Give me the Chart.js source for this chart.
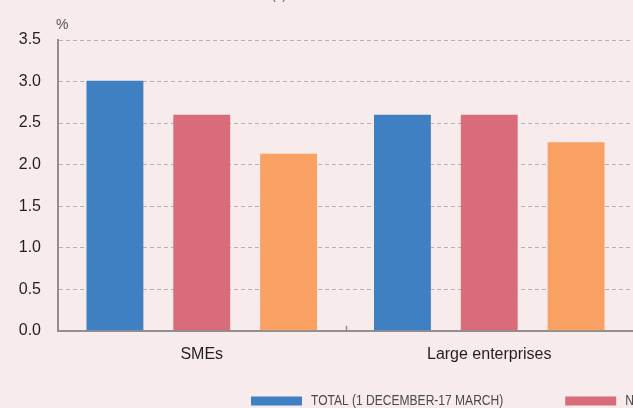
<!DOCTYPE html>
<html>
<head>
<meta charset="utf-8">
<script src="https://cdn.jsdelivr.net/npm/chart.js@4.4.0/dist/chart.umd.min.js"></script>
<style>
  html, body { margin: 0; padding: 0; background: #f7ebeb; overflow: hidden; }
  #wrap { position: relative; width: 633px; height: 408px; }
</style>
</head>
<body>
<div id="wrap"><canvas id="chart"></canvas></div>
<script>
const categories = ['SMEs', 'Large enterprises'];
const seriesNames = ['TOTAL (1 DECEMBER-17 MARCH)', 'NEW LOANS (1 DECEMBER-13 MARCH)', 'NEW LOANS (14-17 MARCH)'];
const seriesColors = ['#3f80c2', '#d96c7b', '#f9a063'];
const totalValues = [3.01, 2.6];
const firstPeriodValues = [2.6, 2.6];
const secondPeriodValues = [2.13, 2.27];
const yMin = 0;
const yMax = 3.5;
const yStep = 0.5;

const axisGrey = '#8f8f8f';
const textDark = '#231f20';
const legendSquash = 0.86; // narrow look for the legend text

// short separators between category groups, the unit label and the legend row
const extras = {
    id: 'extras',
    afterDraw(chart) {
        const ctx = chart.ctx;
        const area = chart.chartArea;
        const x = chart.scales.x;
        ctx.save();

        ctx.strokeStyle = axisGrey;
        ctx.lineWidth = 1.5;
        for (let i = 1; i < categories.length; i++) {
            const px = Math.round((x.getPixelForTick(i - 1) + x.getPixelForTick(i)) / 2) + 0.5;
            ctx.beginPath();
            ctx.moveTo(px, area.bottom);
            ctx.lineTo(px, area.bottom - 5);
            ctx.stroke();
        }

        ctx.fillStyle = '#555555';
        ctx.font = '14px "Liberation Sans", Arial, sans-serif';
        ctx.textAlign = 'left';
        ctx.textBaseline = 'middle';
        ctx.fillText('%', area.left - 2, area.top - 15);

        ctx.textAlign = 'center';
        ctx.textBaseline = 'alphabetic';
        ctx.font = '12px "Liberation Sans", Arial, sans-serif';
        ctx.fillText('(a)', 279, -1);

        // legend
        let lx = 251;
        const ly = 401;
        ctx.font = '14px "Liberation Sans", Arial, sans-serif';
        ctx.textAlign = 'left';
        ctx.textBaseline = 'middle';
        chart.data.datasets.forEach(ds => {
            ctx.fillStyle = ds.backgroundColor;
            ctx.fillRect(lx, ly - 4.5, 51, 9);
            ctx.fillStyle = '#4a4a4a';
            const tx = lx + 60;
            ctx.save();
            ctx.translate(tx, ly + 0.5);
            ctx.scale(legendSquash, 1);
            ctx.fillText(ds.label, 0, 0);
            ctx.restore();
            lx = tx + ctx.measureText(ds.label).width * legendSquash + 62;
        });

        ctx.restore();
    }
};

const datasets = [totalValues, firstPeriodValues, secondPeriodValues].map((values, i) => ({
    label: seriesNames[i],
    data: values,
    backgroundColor: seriesColors[i],
    borderWidth: 0,
    categoryPercentage: 0.906,
    barPercentage: 0.655
}));

new Chart(document.getElementById('chart'), {
    type: 'bar',
    data: { labels: categories, datasets: datasets },
    options: {
        responsive: true,
        maintainAspectRatio: false,
        animation: false,
        layout: { padding: { top: 40, right: 0, bottom: 30, left: 0 } },
        plugins: {
            legend: { display: false },
            tooltip: { enabled: false }
        },
        scales: {
            x: {
                grid: { display: false, drawTicks: false },
                border: { color: axisGrey, width: 2 },
                ticks: {
                    padding: 14,
                    color: textDark,
                    font: { family: '"Liberation Sans", Arial, sans-serif', size: 16 }
                }
            },
            y: {
                min: yMin,
                max: yMax,
                afterFit: scale => { scale.width = 58; },
                grid: {
                    drawTicks: false,
                    lineWidth: 1,
                    color: ctx => (ctx.tick && ctx.tick.value === 0) ? 'rgba(0,0,0,0)' : '#b3b3b3'
                },
                border: { color: axisGrey, width: 2, dash: [4, 3] },
                ticks: {
                    stepSize: yStep,
                    padding: 17,
                    color: textDark,
                    font: { family: '"Liberation Sans", Arial, sans-serif', size: 16 },
                    callback: v => v.toFixed(1)
                }
            }
        }
    },
    plugins: [extras]
});
</script>
</body>
</html>
